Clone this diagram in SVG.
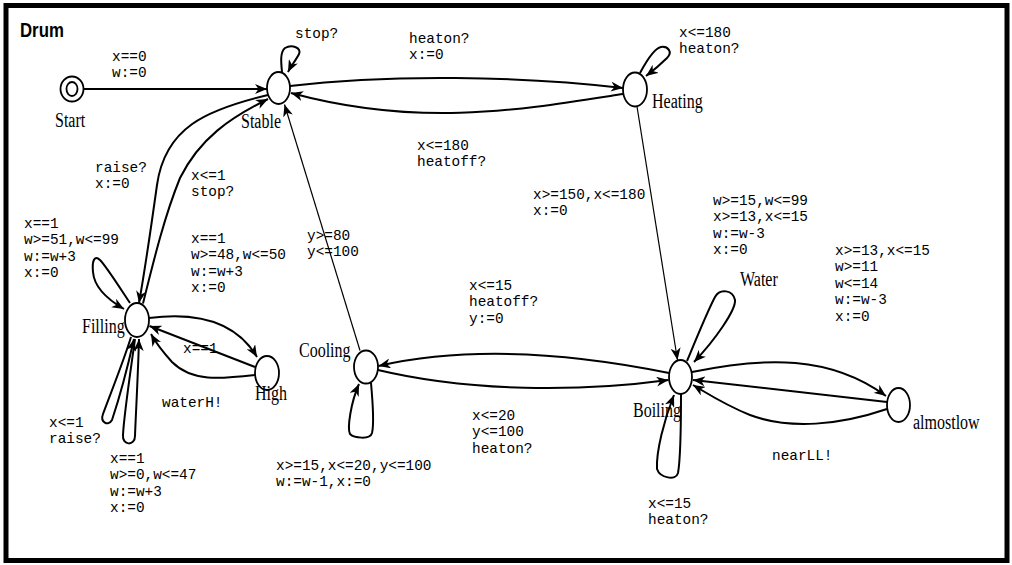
<svg xmlns="http://www.w3.org/2000/svg" width="1012" height="565" viewBox="0 0 1012 565">
<style>
.frame{fill:none;stroke:#000;stroke-width:5}
.node{fill:#fff;stroke:#000;stroke-width:1.8}
.e{fill:none;stroke:#000;stroke-width:2;marker-end:url(#ah)}
.t{fill:none;stroke:#000;stroke-width:1.2;marker-end:url(#ah)}
.m{font-family:"Liberation Mono",monospace;font-size:14.4px;fill:#000}
.s{font-family:"Liberation Serif",serif;font-size:20px;fill:#000}
.title{font-family:"Liberation Sans",Arial,sans-serif;font-size:21px;font-weight:bold;fill:#000}
</style>
<defs>
<marker id="ah" markerUnits="userSpaceOnUse" markerWidth="14" markerHeight="10" refX="12" refY="5" orient="auto" viewBox="0 0 14 10">
<path d="M0,0 L12,5 L0,10 L3.5,5 z" fill="#000"/>
</marker>
</defs>
<rect width="1012" height="565" fill="#fff"/>
<rect class="frame" x="6" y="5.5" width="1001" height="555"/>
<text class="title" transform="translate(20,37) scale(0.8 1)">Drum</text>

<g id="connectors">
<path class="e" d="M 84 89 L 267 89"/>
<path class="e" d="M 282 72 C 281 62, 280 52, 285 48 C 292 44, 302 48, 299 54 C 296 60, 291 66, 288 72"/>
<path class="e" d="M 290 86 C 390 74, 520 76, 623 88"/>
<path class="e" d="M 623 94 C 520 110, 420 128, 291 93"/>
<path class="e" d="M 640 73 C 647 60, 655 48, 661 47 C 668 46, 673 52, 667 58 C 661 64, 654 70, 646 76"/>
<path class="t" d="M 637 106.5 L 677.5 360"/>
<path class="t" d="M 360 350.5 L 284.5 104.5"/>
<path class="e" d="M 268 95 C 205 110, 165 128, 157 185 C 150 235, 144 275, 139 303"/>
<path class="e" d="M 143 303.5 C 155 255, 165 215, 180 178 C 200 138, 230 118, 268 99"/>
<path class="e" d="M 130 303 C 118 285, 106 266, 100 260 C 94 254, 92 262, 93 272 C 94 285, 105 298, 124 309"/>
<path class="e" d="M 149 318 C 195 312, 235 320, 257 357"/>
<path class="e" d="M 255 367 L 149.5 326"/>
<path class="e" d="M 255 375 C 220 379, 192 382, 172 362 C 163 352, 156 343, 151 334"/>
<path class="e" d="M 131 337 C 124 360, 110 395, 103 414 C 100 422, 108 427, 112 420 C 117 405, 127 370, 134 339"/>
<path class="e" d="M 135 339 C 130 375, 124 415, 123 435 C 122 446, 135 446, 135 436 C 136 410, 138 375, 139 339"/>
<path class="e" d="M 669 373 C 590 357, 480 343, 378.5 366"/>
<path class="e" d="M 378 370 C 470 392, 580 392, 668.5 380"/>
<path class="e" d="M 371 383 C 373 405, 374 425, 372 433 C 370 440, 354 438, 350 434 C 347 428, 351 402, 359 384"/>
<path class="e" d="M 687 361 C 697 337, 708 310, 715 297 C 720 288, 733 290, 735 300 C 736 310, 715 340, 694 362"/>
<path class="e" d="M 681 394 C 681 430, 680 462, 678 473 C 676 481, 660 478, 657 469 C 656 452, 664 420, 674 395"/>
<path class="e" d="M 692 372 C 765 357, 830 355, 886 396"/>
<path class="e" d="M 887 402 L 693 380"/>
<path class="e" d="M 887 409 C 840 425, 790 430, 750 415 C 725 405, 710 395, 693 385"/>
</g>

<g id="labels">
<text class="m" x="112" y="61"><tspan x="112">x==0</tspan><tspan x="112" dy="16.4">w:=0</tspan></text>
<text class="m" x="295" y="38">stop?</text>
<text class="m" x="409" y="43"><tspan x="409">heaton?</tspan><tspan x="409" dy="16.4">x:=0</tspan></text>
<text class="m" x="679" y="37"><tspan x="679">x&lt;=180</tspan><tspan x="679" dy="16.4">heaton?</tspan></text>
<text class="m" x="417" y="150"><tspan x="417">x&lt;=180</tspan><tspan x="417" dy="16.4">heatoff?</tspan></text>
<text class="m" x="533" y="198.5"><tspan x="533">x&gt;=150,x&lt;=180</tspan><tspan x="533" dy="16.4">x:=0</tspan></text>
<text class="m" x="95" y="172"><tspan x="95">raise?</tspan><tspan x="95" dy="16.4">x:=0</tspan></text>
<text class="m" x="191" y="180"><tspan x="191">x&lt;=1</tspan><tspan x="191" dy="16.4">stop?</tspan></text>
<text class="m" x="24" y="228"><tspan x="24">x==1</tspan><tspan x="24" dy="16.4">w&gt;=51,w&lt;=99</tspan><tspan x="24" dy="16.4">w:=w+3</tspan><tspan x="24" dy="16.4">x:=0</tspan></text>
<text class="m" x="191" y="243"><tspan x="191">x==1</tspan><tspan x="191" dy="16.4">w&gt;=48,w&lt;=50</tspan><tspan x="191" dy="16.4">w:=w+3</tspan><tspan x="191" dy="16.4">x:=0</tspan></text>
<text class="m" x="307" y="240"><tspan x="307">y&gt;=80</tspan><tspan x="307" dy="16.4">y&lt;=100</tspan></text>
<text class="m" x="469" y="290"><tspan x="469">x&lt;=15</tspan><tspan x="469" dy="16.4">heatoff?</tspan><tspan x="469" dy="16.4">y:=0</tspan></text>
<text class="m" x="183" y="353">x==1</text>
<text class="m" x="162" y="407">waterH!</text>
<text class="m" x="49" y="427"><tspan x="49">x&lt;=1</tspan><tspan x="49" dy="16.4">raise?</tspan></text>
<text class="m" x="110" y="463"><tspan x="110">x==1</tspan><tspan x="110" dy="16.4">w&gt;=0,w&lt;=47</tspan><tspan x="110" dy="16.4">w:=w+3</tspan><tspan x="110" dy="16.4">x:=0</tspan></text>
<text class="m" x="276" y="470"><tspan x="276">x&gt;=15,x&lt;=20,y&lt;=100</tspan><tspan x="276" dy="16.4">w:=w-1,x:=0</tspan></text>
<text class="m" x="472" y="420"><tspan x="472">x&lt;=20</tspan><tspan x="472" dy="16.4">y&lt;=100</tspan><tspan x="472" dy="16.4">heaton?</tspan></text>
<text class="m" x="648" y="508"><tspan x="648">x&lt;=15</tspan><tspan x="648" dy="16.4">heaton?</tspan></text>
<text class="m" x="772" y="460">nearLL!</text>
<text class="m" x="713" y="205"><tspan x="713">w&gt;=15,w&lt;=99</tspan><tspan x="713" dy="16.4">x&gt;=13,x&lt;=15</tspan><tspan x="713" dy="16.4">w:=w-3</tspan><tspan x="713" dy="16.4">x:=0</tspan></text>
<text class="m" x="835" y="255"><tspan x="835">x&gt;=13,x&lt;=15</tspan><tspan x="835" dy="16.4">w&gt;=11</tspan><tspan x="835" dy="16.4">w&lt;=14</tspan><tspan x="835" dy="16.4">w:=w-3</tspan><tspan x="835" dy="16.4">x:=0</tspan></text>
<text class="s" transform="translate(740,286) scale(0.8 1)">Water</text>
</g>

<g id="Start"><ellipse class="node" cx="72" cy="89" rx="11.5" ry="12.5"/><ellipse class="node" cx="72" cy="89" rx="5.5" ry="7"/><text class="s" transform="translate(55,126.5) scale(0.8 1)">Start</text></g>
<g id="Stable"><ellipse class="node" cx="278.5" cy="88" rx="11.5" ry="16"/><text class="s" transform="translate(241,128) scale(0.8 1)">Stable</text></g>
<g id="Heating"><ellipse class="node" cx="635" cy="89.5" rx="12" ry="17"/><text class="s" transform="translate(652,107.5) scale(0.8 1)">Heating</text></g>
<g id="Filling"><ellipse class="node" cx="137" cy="320" rx="12" ry="17"/><text class="s" transform="translate(82,333) scale(0.8 1)">Filling</text></g>
<g id="High"><ellipse class="node" cx="267" cy="373" rx="12" ry="17"/><text class="s" transform="translate(255,400) scale(0.8 1)">High</text></g>
<g id="Cooling"><ellipse class="node" cx="366" cy="367" rx="12" ry="16.5"/><text class="s" transform="translate(299,356.5) scale(0.8 1)">Cooling</text></g>
<g id="Boiling"><ellipse class="node" cx="680.5" cy="377" rx="11.5" ry="17"/><text class="s" transform="translate(633,416.5) scale(0.8 1)">Boiling</text></g>
<g id="almostlow"><ellipse class="node" cx="898.5" cy="405" rx="11.5" ry="17"/><text class="s" transform="translate(913,429) scale(0.8 1)">almostlow</text></g>
</svg>
